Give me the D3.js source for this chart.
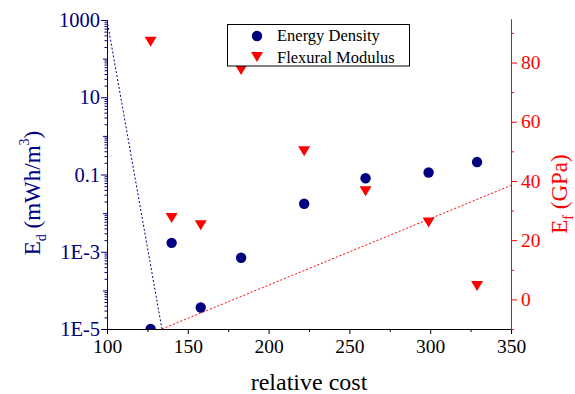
<!DOCTYPE html>
<html>
<head>
<meta charset="utf-8">
<script src="https://cdn.jsdelivr.net/npm/d3@7"></script>
<style>
  body { margin: 0; background: #fff; }
  svg { display: block; font-family: "Liberation Serif", "Times New Roman", serif; }
</style>
</head>
<body>
<div id="chart"></div>
<script>
// relative cost vs energy density (log) and flexural modulus
const cost = [127, 140, 158, 183, 222, 260, 299, 329];
const energyDensity = [1e-5, 1.7e-3, 3.6e-5, 7e-4, 0.0175, 0.08, 0.113, 0.21];
const flexModulus = [87, 27.5, 25, 77.5, 50, 36.5, 26, 4.5];

// dotted guide lines [cost, value]
const edLine = [[100, 1000], [134, 1e-5]];
const efLine = [[134, -10], [350, 38.5]];

const xTicks = [100, 150, 200, 250, 300, 350];
const xMinor = [125, 175, 225, 275, 325];
const edLabelTicks = [1e-5, 1e-3, 0.1, 10, 1000];
const edLabelText = ["1E-5", "1E-3", "0.1", "10", "1000"];
const edDecades = [1e-4, 1e-2, 1, 100];
const efTicks = [0, 20, 40, 60, 80];
const efMinor = [-10, 10, 30, 50, 70, 90];

const width = 575, height = 394;
const mLeft = 107, mRight = 511, mTop = 20, mBottom = 329;
const navy = "#000080", red = "#ff0000";

const svg = d3.select("#chart").append("svg")
    .attr("width", width)
    .attr("height", height);

const x = d3.scaleLinear().domain([100, 350]).range([mLeft, mRight]);
const yL = d3.scaleLog().domain([1e-5, 1000]).range([mBottom, mTop]);
const yR = d3.scaleLinear().domain([-10, 94.7]).range([mBottom, 19]);

svg.append("clipPath").attr("id", "clip")
  .append("rect")
    .attr("x", mLeft).attr("y", 18)
    .attr("width", mRight - mLeft).attr("height", mBottom - 18);

const plot = svg.append("g").attr("clip-path", "url(#clip)");

// dotted lines
plot.append("path")
    .attr("d", d3.line().x(d => x(d[0])).y(d => yL(d[1]))(edLine))
    .attr("fill", "none")
    .attr("stroke", navy)
    .attr("stroke-width", 1)
    .attr("stroke-dasharray", "2,2");

plot.append("path")
    .attr("d", d3.line().x(d => x(d[0])).y(d => yR(d[1]))(efLine))
    .attr("fill", "none")
    .attr("stroke", red)
    .attr("stroke-width", 1)
    .attr("stroke-dasharray", "2,2");

// markers
const triangle = "M-6,-5L6,-5L0,5Z";

plot.selectAll(".ed")
  .data(cost)
  .enter().append("circle")
    .attr("cx", d => x(d))
    .attr("cy", (d, i) => yL(energyDensity[i]))
    .attr("r", 5.2)
    .attr("fill", navy);

plot.selectAll(".ef")
  .data(cost)
  .enter().append("path")
    .attr("d", triangle)
    .attr("transform", (d, i) => `translate(${x(d)},${yR(flexModulus[i])})`)
    .attr("fill", red);

// axes
function styleAxis(g, color, size) {
    g.attr("font-family", null);
    g.selectAll("path.domain").attr("stroke", color);
    g.selectAll("line").attr("stroke", color);
    g.selectAll("text").attr("fill", color)
        .style("font-family", "'Liberation Serif', serif")
        .style("font-size", (size || 19) + "px");
}

// bottom
svg.append("g")
    .attr("transform", `translate(0,${mBottom})`)
    .call(d3.axisBottom(x).tickValues(xMinor).tickSize(3).tickFormat("").tickSizeOuter(0))
    .call(g => styleAxis(g, "#000"));
svg.append("g")
    .attr("transform", `translate(0,${mBottom})`)
    .call(d3.axisBottom(x).tickValues(xTicks).tickSize(5).tickPadding(5).tickSizeOuter(0))
    .call(g => styleAxis(g, "#000", 19.5))
    .call(g => g.select(".domain").attr("stroke-width", 1.2));

// left log axis
const edMinor = yL.ticks().filter(v => {
    const m = v / Math.pow(10, Math.floor(Math.log10(v) + 1e-9));
    return Math.round(m) !== 1;
});
svg.append("g")
    .attr("transform", `translate(${mLeft},0)`)
    .call(d3.axisLeft(yL).tickValues(edMinor).tickSize(2.5).tickFormat("").tickSizeOuter(0))
    .call(g => styleAxis(g, navy));
svg.append("g")
    .attr("transform", `translate(${mLeft},0)`)
    .call(d3.axisLeft(yL).tickValues(edDecades).tickSize(4).tickFormat("").tickSizeOuter(0))
    .call(g => styleAxis(g, navy));
svg.append("g")
    .attr("transform", `translate(${mLeft},0)`)
    .call(d3.axisLeft(yL).tickValues(edLabelTicks).tickSize(6).tickPadding(1)
        .tickFormat((d, i) => edLabelText[i]).tickSizeOuter(0))
    .call(g => styleAxis(g, navy, 20.5));

// right axis
svg.append("g")
    .attr("transform", `translate(${mRight},0)`)
    .call(d3.axisRight(yR).tickValues(efMinor).tickSize(3).tickFormat("").tickSizeOuter(0))
    .call(g => styleAxis(g, red));
svg.append("g")
    .attr("transform", `translate(${mRight},0)`)
    .call(d3.axisRight(yR).tickValues(efTicks).tickSize(6).tickPadding(4).tickSizeOuter(0))
    .call(g => styleAxis(g, red, 19.5));

// axis titles
svg.append("text")
    .attr("x", (mLeft + mRight) / 2)
    .attr("y", 390)
    .attr("text-anchor", "middle")
    .style("font-size", "24px")
    .text("relative cost");

const lt = svg.append("text")
    .attr("transform", "translate(40,193) rotate(-90)")
    .attr("text-anchor", "middle")
    .attr("fill", navy)
    .style("font-size", "23px");
lt.append("tspan").text("E");
lt.append("tspan").attr("dy", 6).style("font-size", "14px").text("d");
lt.append("tspan").attr("dy", -6).text(" (mWh/m");
lt.append("tspan").attr("dy", -11).style("font-size", "14px").text("3");
lt.append("tspan").attr("dy", 11).text(")");

const rt = svg.append("text")
    .attr("transform", "translate(567,194) rotate(-90)")
    .attr("text-anchor", "middle")
    .attr("fill", red)
    .style("font-size", "23px");
rt.append("tspan").text("E");
rt.append("tspan").attr("dy", 6).style("font-size", "14px").text("f");
rt.append("tspan").attr("dy", -6).text(" (GPa)");

// legend
const legend = svg.append("g");
legend.append("rect")
    .attr("x", 227.5).attr("y", 24.5)
    .attr("width", 182).attr("height", 41.5)
    .attr("fill", "#fff")
    .attr("stroke", "#000")
    .attr("stroke-width", 1);
legend.append("circle")
    .attr("cx", 257).attr("cy", 36)
    .attr("r", 5.2).attr("fill", navy);
legend.append("path")
    .attr("d", triangle)
    .attr("transform", "translate(257,57)")
    .attr("fill", red);
legend.append("text")
    .attr("x", 277).attr("y", 41)
    .style("font-size", "16.5px")
    .text("Energy Density");
legend.append("text")
    .attr("x", 277).attr("y", 62.5)
    .style("font-size", "16.5px")
    .text("Flexural Modulus");
</script>
</body>
</html>
